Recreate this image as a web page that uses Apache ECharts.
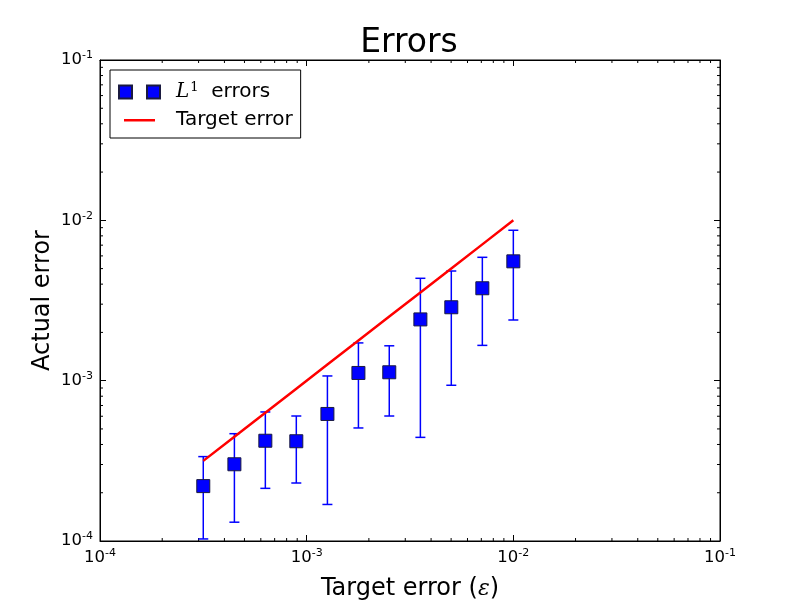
<!DOCTYPE html>
<html>
<head>
<meta charset="utf-8">
<script src="https://cdn.jsdelivr.net/npm/echarts@6/dist/echarts.min.js"></script>
<style>
  html, body { margin: 0; padding: 0; background: #fff; }
  #chart { width: 800px; height: 600px; }
</style>
</head>
<body>
<div id="chart"></div>
<script>
// target error (epsilon) for each run
const targetErr = [3.16e-4, 4.47e-4, 6.31e-4, 8.91e-4, 1.26e-3, 1.78e-3, 2.51e-3, 3.55e-3, 5.01e-3, 7.08e-3, 1.0e-2]
// mean L1 error and its spread
const l1Err = [2.2e-4, 3.01e-4, 4.22e-4, 4.19e-4, 6.2e-4, 1.117e-3, 1.128e-3, 2.41e-3, 2.87e-3, 3.77e-3, 5.55e-3]
const l1Low = [1.03e-4, 1.31e-4, 2.13e-4, 2.3e-4, 1.69e-4, 5.07e-4, 6.02e-4, 4.43e-4, 9.36e-4, 1.66e-3, 2.39e-3]
const l1High = [3.36e-4, 4.67e-4, 6.38e-4, 6.02e-4, 1.07e-3, 1.72e-3, 1.65e-3, 4.35e-3, 4.83e-3, 5.88e-3, 8.67e-3]
// axis range and minor ticks
const axisMin = 1e-4
const axisMax = 1e-1
const minorTicks = [2e-4, 3e-4, 4e-4, 5e-4, 6e-4, 7e-4, 8e-4, 9e-4,
  2e-3, 3e-3, 4e-3, 5e-3, 6e-3, 7e-3, 8e-3, 9e-3,
  2e-2, 3e-2, 4e-2, 5e-2, 6e-2, 7e-2, 8e-2, 9e-2]

const FONT = 'DejaVu Sans'
const tickRich = {
  b: { fontFamily: FONT, fontSize: 16.5, color: '#000', lineHeight: 20 },
  s: { fontFamily: FONT, fontSize: 11, color: '#000', verticalAlign: 'top', lineHeight: 20, padding: [0, 0, 9, 0] }
}
const powFmt = v => '{b|10}{s|' + Math.round(Math.log10(v)) + '}'

function logAxis(extra) {
  return Object.assign({
    type: 'log',
    logBase: 10,
    min: axisMin,
    max: axisMax,
    splitLine: { show: false },
    axisLine: { show: true, lineStyle: { color: '#000', width: 1 } },
    axisTick: { show: true, inside: true, length: 6, lineStyle: { color: '#000' } },
    minorTick: { show: false },
    axisLabel: { show: false }
  }, extra)
}

const myChart = echarts.init(document.getElementById('chart'))
myChart.setOption({
  animation: false,
  backgroundColor: '#fff',
  title: {
    text: 'Errors',
    left: 404,
    top: 22,
    textAlign: 'center',
    textStyle: { fontFamily: FONT, fontSize: 33, fontWeight: 'normal', color: '#000' }
  },
  grid: {
    left: 100, right: 80, top: 60, bottom: 59,
    outerBoundsMode: 'none', containLabel: false,
    show: true, borderColor: '#000', borderWidth: 1
  },
  legend: {
    left: 110,
    top: 70,
    orient: 'vertical',
    backgroundColor: '#fff',
    borderColor: '#000',
    borderWidth: 1,
    borderRadius: 0,
    padding: [11, 8, 8, 8],
    itemGap: 7,
    itemWidth: 41,
    itemHeight: 13,
    data: [
      { name: 'L1', icon: 'path://M0,0h13v13h-13z M28,0h13v13h-13z' },
      { name: 'Target error', icon: 'path://M0,0 M41,13 M5,5.5h31v2.5h-31z' }
    ],
    formatter: name => name === 'L1' ? '{i|L}{sup|1}{t|  errors}' : '{t|Target error}',
    textStyle: {
      padding: [0, 0, 0, 11],
      rich: {
        t: { fontFamily: FONT, fontSize: 20, color: '#000', lineHeight: 22 },
        i: { fontFamily: 'DejaVu Serif', fontStyle: 'italic', fontSize: 20, color: '#000', lineHeight: 22 },
        sup: { fontFamily: 'DejaVu Serif', fontSize: 13, color: '#000', verticalAlign: 'top', lineHeight: 22, padding: [0, 0, 9, 1] }
      }
    }
  },
  xAxis: [
    logAxis({
      position: 'bottom',
      axisLabel: { show: true, formatter: powFmt, rich: tickRich, margin: 7 },
      name: '{t|Target error (}{e|ε}{t|)}',
      nameLocation: 'middle',
      nameGap: 36,
      nameTextStyle: {
        rich: {
          t: { fontFamily: FONT, fontSize: 24, color: '#000' },
          e: { fontFamily: 'DejaVu Serif', fontStyle: 'italic', fontSize: 22, color: '#000' }
        }
      }
    }),
    logAxis({ position: 'top' })
  ],
  yAxis: [
    logAxis({
      position: 'left',
      axisLabel: { show: true, formatter: powFmt, rich: tickRich, margin: 7 },
      name: 'Actual error',
      nameLocation: 'middle',
      nameGap: 45,
      nameMoveOverlap: false,
      nameTextStyle: { fontFamily: FONT, fontSize: 24, color: '#000' }
    }),
    logAxis({ position: 'right' })
  ],
  series: [
    {
      // minor ticks on bottom and top
      type: 'custom',
      silent: true,
      clip: false,
      data: minorTicks.map(v => [v, 1e-3]),
      renderItem: (params, api) => {
        const cs = params.coordSys
        const px = api.coord([api.value(0), 1e-3])[0]
        const st = { stroke: '#000', lineWidth: 1 }
        return {
          type: 'group',
          children: [
            { type: 'line', shape: { x1: px, y1: cs.y + cs.height, x2: px, y2: cs.y + cs.height - 3 }, style: st },
            { type: 'line', shape: { x1: px, y1: cs.y, x2: px, y2: cs.y + 3 }, style: st }
          ]
        }
      }
    },
    {
      // minor ticks on left and right
      type: 'custom',
      silent: true,
      clip: false,
      data: minorTicks.map(v => [1e-3, v]),
      renderItem: (params, api) => {
        const cs = params.coordSys
        const py = api.coord([1e-3, api.value(1)])[1]
        const st = { stroke: '#000', lineWidth: 1 }
        return {
          type: 'group',
          children: [
            { type: 'line', shape: { x1: cs.x, y1: py, x2: cs.x + 3, y2: py }, style: st },
            { type: 'line', shape: { x1: cs.x + cs.width, y1: py, x2: cs.x + cs.width - 3, y2: py }, style: st }
          ]
        }
      }
    },
    {
      // error bars
      type: 'custom',
      name: 'bars',
      silent: true,
      clip: true,
      z: 3,
      data: targetErr.map((x, i) => [x, l1Low[i], l1High[i]]),
      renderItem: (params, api) => {
        const lo = api.coord([api.value(0), api.value(1)])
        const hi = api.coord([api.value(0), api.value(2)])
        const st = { stroke: '#0000ff', lineWidth: 1.5 }
        return {
          type: 'group',
          children: [
            { type: 'line', shape: { x1: lo[0], y1: lo[1], x2: hi[0], y2: hi[1] }, style: st },
            { type: 'line', shape: { x1: lo[0] - 5, y1: lo[1], x2: lo[0] + 5, y2: lo[1] }, style: st },
            { type: 'line', shape: { x1: hi[0] - 5, y1: hi[1], x2: hi[0] + 5, y2: hi[1] }, style: st }
          ]
        }
      }
    },
    {
      name: 'L1',
      type: 'scatter',
      symbol: 'rect',
      symbolSize: 13,
      z: 4,
      itemStyle: { color: '#0000ff', borderColor: '#1a1a40', borderWidth: 1, opacity: 1 },
      data: targetErr.map((x, i) => [x, l1Err[i]])
    },
    {
      name: 'Target error',
      type: 'line',
      symbol: 'none',
      z: 5,
      lineStyle: { color: '#ff0000', width: 2.5 },
      itemStyle: { color: '#ff0000' },
      data: targetErr.map(x => [x, x])
    }
  ]
})
</script>
</body>
</html>
